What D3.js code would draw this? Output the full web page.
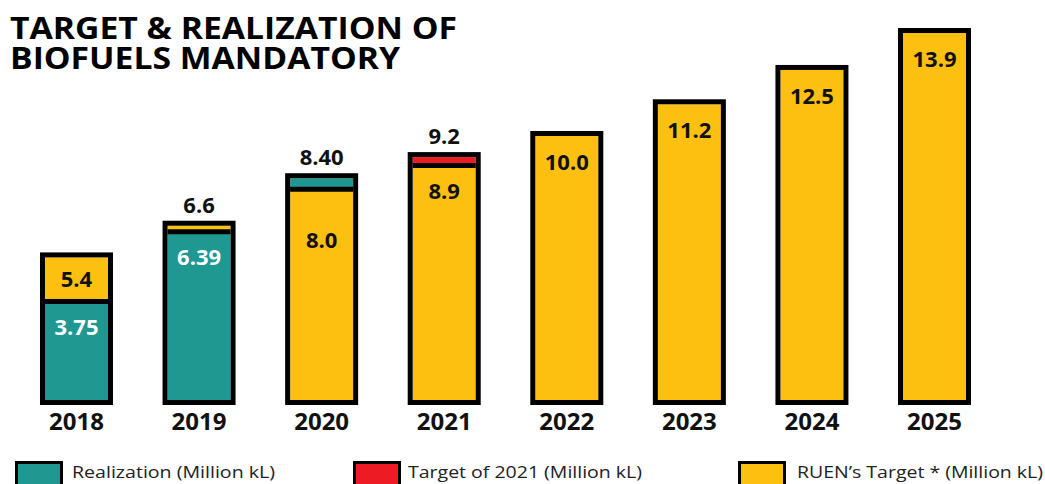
<!DOCTYPE html>
<html>
<head>
<meta charset="utf-8">
<script src="https://cdn.jsdelivr.net/npm/d3@7"></script>
<style>
  html, body { margin: 0; padding: 0; background: #fff; }
  svg { display: block; }
</style>
</head>
<body>
<script>
// data
const years = ["2018", "2019", "2020", "2021", "2022", "2023", "2024", "2025"];
const realization = [3.75, 6.39, 8.40, null, null, null, null, null];
const target2021 = [null, null, null, 9.2, null, null, null, null];
const ruenTarget = [5.4, 6.6, 8.0, 8.9, 10.0, 11.2, 12.5, 13.9];

const seriesNames = ["Realization (Million kL)", "Target of 2021 (Million kL)", "RUEN\u2019s Target * (Million kL)"];
const seriesColors = ["#1f9892", "#ed1c24", "#fdc010"];

const width = 1045;
const height = 484;
const border = 5;
const font = "'Open Sans', sans-serif";

const svg = d3.select("body").append("svg")
  .attr("width", width)
  .attr("height", height)
  .style("font-family", font);

// title
const title = svg.append("g");
title.append("text")
  .attr("x", 10).attr("y", 39)
  .attr("font-size", 31).attr("font-weight", 700)
  .attr("textLength", 447).attr("lengthAdjust", "spacingAndGlyphs")
  .text("TARGET & REALIZATION OF");
title.append("text")
  .attr("x", 10).attr("y", 69)
  .attr("font-size", 31).attr("font-weight", 700)
  .attr("textLength", 390).attr("lengthAdjust", "spacingAndGlyphs")
  .text("BIOFUELS MANDATORY");

// scales
const x = d3.scaleBand()
  .domain(years)
  .range([15.2, 995.8])
  .paddingInner(0.486)
  .paddingOuter(0.243);

const y = d3.scaleLinear()
  .domain([0, 13.9])
  .range([400, 33]);

const color = d3.scaleOrdinal().domain(seriesNames).range(seriesColors);
const fmt = [d3.format(".2f"), d3.format(".1f"), d3.format(".1f")];

// build stacked segments per year: values sorted ascending, each segment from previous value
const bars = years.map((yr, i) => {
  const vals = [realization[i], target2021[i], ruenTarget[i]]
    .map((v, s) => ({ s, v }))
    .filter(d => d.v != null)
    .sort((a, b) => a.v - b.v);
  let prev = 0;
  const segs = vals.map(d => {
    const seg = { year: yr, s: d.s, y0: prev, y1: d.v, label: fmt[d.s](d.v) };
    prev = d.v;
    return seg;
  });
  return { year: yr, total: prev, segs };
});

// the 2020 inside label sits lower in the original
const insideShift = { "2020": 25 };

const g = svg.append("g");

bars.forEach(b => {
  const bx = x(b.year);
  const bw = x.bandwidth();
  const bg = g.append("g");

  // fills
  bg.selectAll("rect.seg")
    .data(b.segs)
    .join("rect")
    .attr("class", "seg")
    .attr("x", bx)
    .attr("width", bw)
    .attr("y", d => y(d.y1))
    .attr("height", d => y(d.y0) - y(d.y1))
    .attr("fill", d => color(seriesNames[d.s]));

  // dividers between segments
  bg.selectAll("line.div")
    .data(b.segs.slice(0, -1))
    .join("line")
    .attr("x1", bx).attr("x2", bx + bw)
    .attr("y1", d => y(d.y1) + 0.5).attr("y2", d => y(d.y1) + 0.5)
    .attr("stroke", "#000")
    .attr("stroke-width", border);

  // outer border drawn just outside the fill
  bg.append("rect")
    .attr("x", bx - border / 2)
    .attr("y", y(b.total) - border / 2)
    .attr("width", bw + border)
    .attr("height", y(0) - y(b.total) + border)
    .attr("fill", "none")
    .attr("stroke", "#000")
    .attr("stroke-width", border);

  // value labels
  b.segs.forEach((d, k) => {
    const top = y(d.y1), bottom = y(d.y0);
    const h = bottom - top;
    let ly;
    if (h < 30 && k === b.segs.length - 1) {
      ly = y(b.total) - border - 8; // above the bar
    } else {
      ly = Math.min(top + 26, (top + bottom) / 2) + 8 + (insideShift[b.year] || 0);
    }
    bg.append("text")
      .attr("x", bx + bw / 2)
      .attr("y", ly)
      .attr("text-anchor", "middle")
      .attr("font-size", 22)
      .attr("font-weight", 700)
      .attr("fill", d.s === 0 && h >= 30 ? "#fff" : "#111")
      .text(d.label);
  });
});

// year labels
g.selectAll("text.year")
  .data(years)
  .join("text")
  .attr("class", "year")
  .attr("x", d => x(d) + x.bandwidth() / 2)
  .attr("y", 430)
  .attr("text-anchor", "middle")
  .attr("font-size", 24)
  .attr("font-weight", 700)
  .attr("fill", "#111")
  .text(d => d);

// legend
const legendX = [15, 353, 738];
const legendW = [203, 234, 246];
const legend = svg.append("g");
const item = legend.selectAll("g")
  .data(seriesNames)
  .join("g")
  .attr("transform", (d, i) => `translate(${legendX[i]}, 461)`);

item.append("rect")
  .attr("x", 1.5).attr("y", 1.5)
  .attr("width", 45).attr("height", 30)
  .attr("fill", d => color(d))
  .attr("stroke", "#000")
  .attr("stroke-width", 3);

item.append("text")
  .attr("x", (d, i) => i === 0 ? 57 : (i === 1 ? 55 : 59))
  .attr("y", 17)
  .attr("font-size", 16)
  .attr("fill", "#222")
  .attr("textLength", (d, i) => legendW[i])
  .attr("lengthAdjust", "spacingAndGlyphs")
  .text(d => d);
</script>
</body>
</html>
